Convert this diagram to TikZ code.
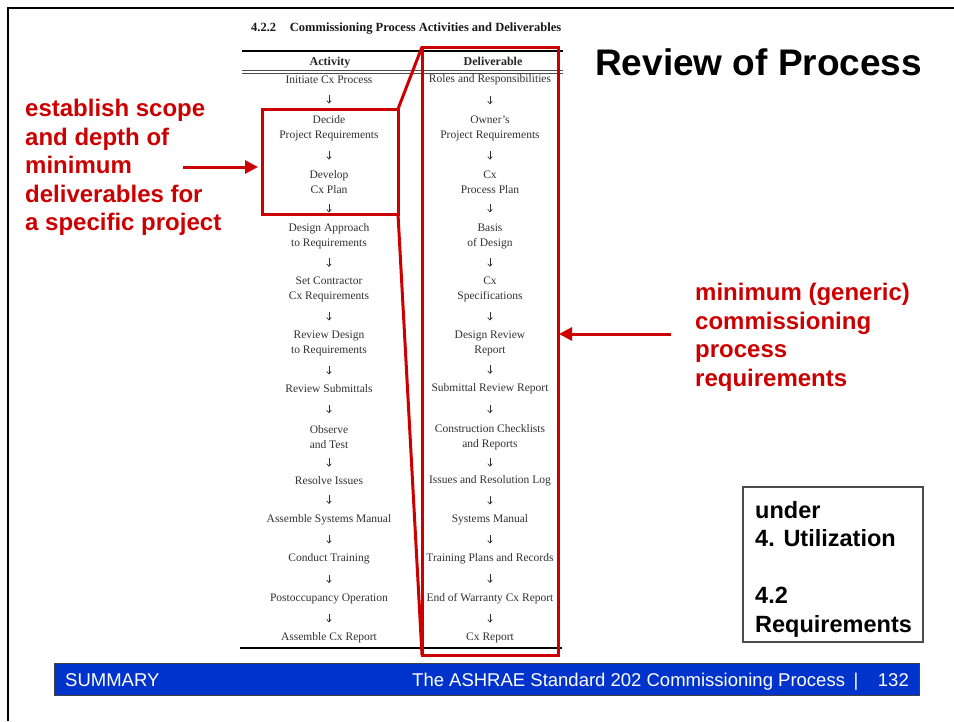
\documentclass[tikz,border=0pt]{standalone}
\usepackage{fontspec}
\setmainfont{Liberation Serif}
\newfontfamily\arialf{Liberation Sans}
\usetikzlibrary{arrows.meta,calc}
\definecolor{slidered}{RGB}{204,0,0}
\definecolor{scan}{RGB}{50,50,50}
\definecolor{barblue}{RGB}{0,51,204}
\begin{document}
\begin{tikzpicture}[x=1pt,y=-1pt,
  tabtext/.style={font=\fontsize{11.5}{15}\selectfont, text=scan, align=center, inner sep=0pt},
  tabhead/.style={font=\bfseries\fontsize{12}{14}\selectfont, text=black!85, inner sep=0pt, anchor=base},
  tabarr/.style={draw=scan, line width=0.7pt, -{Straight Barb[length=2.5pt,width=4.5pt]},
    to path={($(\tikztostart.south)!0.5!(\tikztotarget.north)+(0,-4.5)$) -- ($(\tikztostart.south)!0.5!(\tikztotarget.north)+(0,4)$)}},
  rule/.style={draw=black, line width=2.2pt},
  thinrule/.style={draw=black!70, line width=0.8pt},
  redbox/.style={draw=slidered, line width=3pt, inner sep=0pt, outer sep=0pt},
  redline/.style={draw=slidered, line width=3pt},
  redarr/.style={draw=slidered, line width=3pt, -{Triangle[length=13pt,width=13pt]}},
  redtext/.style={font=\arialf\bfseries\fontsize{24}{28.5}\selectfont, text=slidered, align=left, inner sep=0pt, anchor=north west},
  blacktext/.style={font=\arialf\bfseries\fontsize{23.5}{28.5}\selectfont, text=black, align=left, inner sep=0pt, anchor=north west},
  foottext/.style={font=\arialf\fontsize{18.5}{20}\selectfont, text=white, inner sep=0pt},
]
\useasboundingbox (0,0) rectangle (954,721);
\fill[white] (0,0) rectangle (954,721);

% slide frame
\draw[line width=2pt] (8,721) -- (8,8) -- (954,8);

% slide title
\node (heading) [font=\arialf\bfseries\fontsize{37}{40}\selectfont, anchor=base west, inner sep=0pt] at (595,75) {Review of Process};

% table title and rules
\node (tabtitle) [font=\bfseries\fontsize{12.5}{14}\selectfont, text=black!90, anchor=base west, inner sep=0pt] at (251,31) {4.2.2\hspace{1.1em}Commissioning Process Activities and Deliverables};
\draw[rule] (242,51) -- (563,51);
\node (hact) [tabhead] at (330,65) {Activity};
\node (hdel) [tabhead] at (493,65) {Deliverable};
\draw[thinrule] (242,70) -- (563,70);
\draw[thinrule] (242,73) -- (563,73);
\draw[rule] (240,648) -- (562,648);

% activity column
\foreach \n/\y/\t in {
  1/80/{Initiate Cx Process},
  2/128/{Decide\\Project Requirements},
  3/182/{Develop\\Cx Plan},
  4/236/{Design Approach\\to Requirements},
  5/289.5/{Set Contractor\\Cx Requirements},
  6/343.5/{Review Design\\to Requirements},
  7/389/{Review Submittals},
  8/437/{Observe\\and Test},
  9/481/{Resolve Issues},
  10/520/{Assemble Systems Manual},
  11/559/{Conduct Training},
  12/599/{Postoccupancy Operation},
  13/638/{Assemble Cx Report}}
  \node (A\n) [tabtext] at (329,\y) {\t};

% deliverable column
\foreach \n/\y/\t in {
  1/80/{Roles and Responsibilities},
  2/128/{Owner’s\\Project Requirements},
  3/182/{Cx\\Process Plan},
  4/236/{Basis\\of Design},
  5/289.5/{Cx\\Specifications},
  6/343.5/{Design Review\\Report},
  7/389/{Submittal Review Report},
  8/437/{Construction Checklists\\and Reports},
  9/481/{Issues and Resolution Log},
  10/520/{Systems Manual},
  11/559/{Training Plans and Records},
  12/599/{End of Warranty Cx Report},
  13/638/{Cx Report}}
  \node (D\n) [tabtext] at (490,\y) {\t};

\foreach \i/\j in {1/2,2/3,3/4,4/5,5/6,6/7,7/8,8/9,9/10,10/11,11/12,12/13}{
  \draw[tabarr] (A\i) to (A\j);
  \draw[tabarr] (D\i) to (D\j);
}

% red highlight boxes
\node (actbox) [redbox, minimum width=136pt, minimum height=105pt] at (330,161.5) {};
\node (delbox) [redbox, minimum width=136pt, minimum height=608pt] at (490,351) {};
\draw[redline] (actbox.north east) -- (delbox.north west);
\draw[redline] (actbox.south east) -- (delbox.south west);

% red annotations
\node (scope) [redtext] at (25,99) {establish scope\\and depth of\\minimum\\deliverables for\\a specific project};
\coordinate (lstart) at (183,167);
\draw[redarr, shorten >=4pt] (lstart) -- (lstart -| actbox.west);

\node (generic) [redtext] at (695,283) {minimum (generic)\\commissioning\\process\\requirements};
\coordinate (rstart) at (671,334);
\draw[redarr, shorten >=1pt] (rstart) -- (rstart -| delbox.east);

% reference box
\node (underbox) [draw=black!70, line width=1.2pt, minimum width=180pt, minimum height=155pt, inner sep=0pt] at (833,564.5) {};
\node (undertext) [blacktext] at (755,501) {under\\4. Utilization\\[28.5pt]4.2\\Requirements};

% footer bar
\node (bar) [fill=barblue, draw=black!75, line width=1pt, minimum width=865pt, minimum height=32pt, inner sep=0pt] at (486.5,679) {};
\node (summary) [foottext, anchor=base west] at (65,686) {SUMMARY};
\node (foottitle) [foottext, anchor=base west] at (412,686) {The ASHRAE Standard 202 Commissioning Process};
\node (footsep) [foottext, anchor=base] at (856,686) {|};
\node (pagenum) [foottext, anchor=base east] at (909,686) {132};
\end{tikzpicture}
\end{document}
